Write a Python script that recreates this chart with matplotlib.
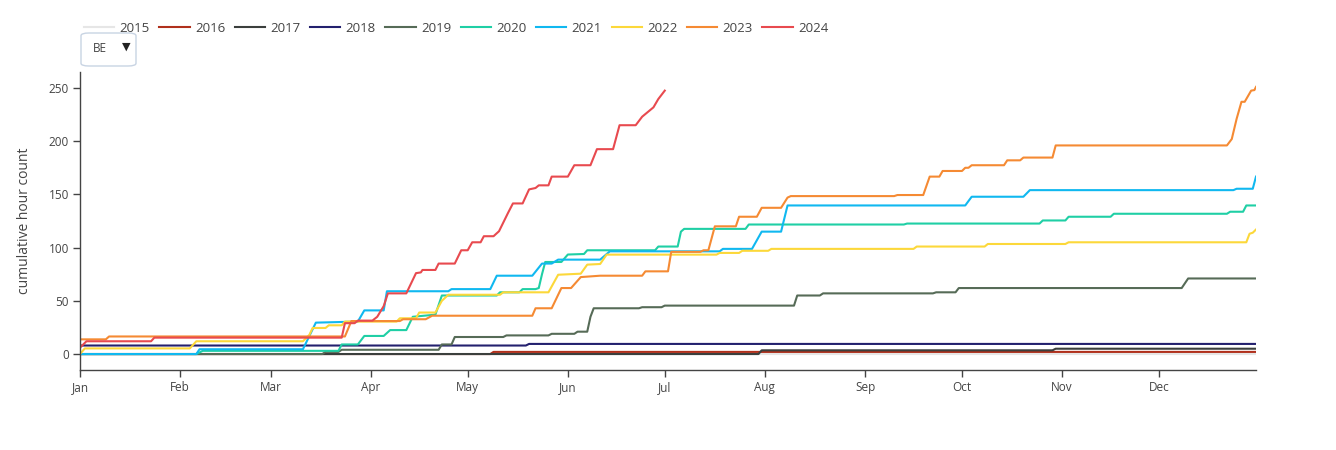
import matplotlib
matplotlib.use('Agg')
import matplotlib.pyplot as plt
import matplotlib.dates as mdates
from matplotlib.patches import FancyBboxPatch
import pandas as pd

plt.rcParams['font.family'] = ['Open Sans', 'DejaVu Sans']

# day of year (0 = Jan 1) and cumulative hour count, per year
days_2015 = [0, 364]
vals_2015 = [0, 0]

days_2016 = [0, 127, 128, 364]
vals_2016 = [0, 0, 2, 2]

days_2017 = [0, 210, 211, 301, 302, 364]
vals_2017 = [0, 0, 3.5, 3.5, 5, 5]

days_2018 = [0, 138, 139, 364]
vals_2018 = [8, 8, 9.5, 9.5]

days_2019 = [0, 75, 76, 80, 81, 111, 112, 115, 116, 131, 132, 145, 146, 153, 154,
             157, 158, 159, 173, 174, 180, 181, 221, 222, 229, 230, 264, 265,
             271, 272, 341, 343, 364]
vals_2019 = [0, 0, 2, 2, 4, 4, 9, 9, 16, 16, 17.5, 17.5, 19, 19, 21,
             21, 35, 43, 43, 44, 44, 45.5, 45.5, 55, 55, 57, 57, 58,
             58, 62, 62, 71, 71]

days_2020 = [0, 36, 38, 80, 81, 86, 88, 94, 96, 101, 103, 110, 112, 129, 130,
             136, 137, 141, 142, 143, 144, 149, 151, 156, 157, 178, 179, 185,
             186, 187, 206, 207, 255, 256, 297, 298, 305, 306, 319, 320, 355,
             356, 360, 361, 364]
vals_2020 = [0, 0, 3, 3, 9, 9, 17, 17, 22.5, 22.5, 35, 37, 55, 55, 58,
             58, 61, 61, 62, 75, 86.5, 86.5, 93.5, 94, 97.5, 97.5, 101, 101,
             115, 117.6, 117.6, 121.7, 121.7, 122.6, 122.6, 125.5, 125.5, 129, 129, 131.8, 131.8,
             133.7, 133.7, 139.6, 139.6]

days_2021 = [0, 36, 37, 69, 73, 86, 88, 94, 95, 114, 115, 127, 129, 140, 143,
             146, 148, 161, 164, 198, 199, 208, 211, 217, 219, 274, 276, 292,
             294, 357, 358, 363, 364]
vals_2021 = [0, 0, 4.5, 4.5, 29.5, 30.5, 41, 41, 59, 59, 61, 61, 73.6, 73.6, 85,
             85, 88.7, 88.7, 96.5, 96.5, 98.8, 98.8, 115, 115, 139.6, 139.6, 147.8, 147.8,
             154, 154, 155.3, 155.3, 166.7]

days_2022 = [0, 1.5, 34, 36, 69, 71, 72, 76, 77, 81, 82, 98, 99, 104, 105, 110,
             112, 114, 130, 131, 145, 148, 155, 157, 161, 163, 197, 198, 204,
             205, 213, 214, 258, 259, 280, 281, 305, 306, 361, 362, 363, 364]
vals_2022 = [0, 5.3, 5.3, 12, 12, 18, 24.5, 24.5, 27, 27, 30.5, 30.5, 33.6, 33.6, 39, 39,
             50, 55.7, 55.7, 58, 58, 74.5, 75.5, 84, 84.6, 93.4, 93.4, 95, 95,
             97, 97, 98.8, 98.8, 101, 101, 103.4, 103.4, 105, 105, 113, 114, 117]

days_2023 = [0, 8, 9, 82, 84, 99, 100, 107, 109, 140, 141, 146, 149, 152, 155,
             161, 174, 175, 182, 183, 192, 193, 194.5, 196.5, 203, 204, 209.5,
             211, 217, 219, 220, 252, 253, 261, 263, 266, 267, 273, 274, 275,
             276, 286, 287, 291, 292, 301, 302, 355, 356.5, 358, 359.5, 360.5,
             362.5, 363.5, 364]
vals_2023 = [13.8, 13.8, 16.5, 16.5, 31, 31, 32.7, 32.7, 36, 36, 43, 43, 62, 62, 72.3,
             73.6, 73.6, 77.7, 77.7, 96, 96, 97.5, 97.5, 120, 120, 129, 129,
             137.4, 137.4, 147, 148.4, 148.4, 149.4, 149.4, 166.7, 166.7, 172, 172, 175, 175,
             177.4, 177.4, 182, 182, 184.6, 184.6, 196, 196, 202, 221, 237, 237,
             247.5, 248, 251]

days_2024 = [0, 2, 22, 23, 81, 82, 85, 86, 90.5, 92, 94, 95.3, 101, 104, 105.5,
             106, 110, 111, 116, 118, 120, 121.4, 124, 125, 128, 129.7, 132.5,
             134, 137, 139, 141, 142, 145, 146, 151, 153, 158, 160, 165, 167,
             172, 174, 177.5, 179, 181]
vals_2024 = [6, 12, 12, 15.4, 15.4, 29, 29, 31.4, 31.4, 35, 45, 57, 57, 76, 76.7,
             79, 79, 85, 85, 97.5, 97.5, 105, 105, 110.7, 110.7, 115.4, 132.7,
             141.5, 141.5, 154.7, 156, 158.5, 158.5, 166.7, 166.7, 177.4, 177.4, 192.5, 192.5, 215,
             215, 223, 231.8, 239.6, 247.5]

years = ['2015', '2016', '2017', '2018', '2019', '2020', '2021', '2022', '2023', '2024']
series_days = [days_2015, days_2016, days_2017, days_2018, days_2019,
               days_2020, days_2021, days_2022, days_2023, days_2024]
series_vals = [vals_2015, vals_2016, vals_2017, vals_2018, vals_2019,
               vals_2020, vals_2021, vals_2022, vals_2023, vals_2024]
colors = ['#e6e6e6', '#b0301c', '#3b3f3d', '#23206e', '#566b57',
          '#1fcfa5', '#10b8f0', '#fcd83a', '#f58a33', '#e84a4f']

month_labels = ['Jan', 'Feb', 'Mar', 'Apr', 'May', 'Jun',
                'Jul', 'Aug', 'Sep', 'Oct', 'Nov', 'Dec']

start = pd.Timestamp('2023-01-01')

fig = plt.figure(figsize=(13.36, 4.5), dpi=100)
ax = fig.add_axes([80 / 1336, 1 - 370 / 450, 1176 / 1336, 298 / 450])

for year, d, v, c in zip(years, series_days, series_vals, colors):
    x = start + pd.to_timedelta(d, unit='D')
    ax.plot(x, v, color=c, lw=1.5, label=year, solid_joinstyle='round')

ax.set_xlim(start, start + pd.Timedelta(days=364))
ax.set_ylim(-15, 265)
ax.set_yticks([0, 50, 100, 150, 200, 250])
ax.xaxis.set_major_locator(mdates.MonthLocator())
ax.set_xticks(ax.get_xticks())
ax.set_xticklabels(month_labels)

for s in ['top', 'right']:
    ax.spines[s].set_visible(False)
for s in ['left', 'bottom']:
    ax.spines[s].set_color('#444444')
    ax.spines[s].set_linewidth(1)
ax.tick_params(axis='both', colors='#444444', labelsize=8.5, length=5, width=1, pad=3)
ax.set_ylabel('cumulative hour count', fontsize=10, color='#444444', labelpad=12)

fig.legend(loc='upper left', bbox_to_anchor=(84 / 1336, 1 - 22 / 450), ncol=10,
           frameon=False, fontsize=9.5, handlelength=2.3, handletextpad=0.4,
           columnspacing=0.72, borderpad=0, borderaxespad=0, labelcolor='#444444')

# dropdown selector
box = FancyBboxPatch((81 / 1336, 1 - 66 / 450), 55 / 1336, 33 / 450,
                     boxstyle='round,pad=0,rounding_size=0.006', transform=fig.transFigure,
                     facecolor='white', edgecolor='#c8d4e3', lw=1)
fig.patches.append(box)
fig.text(93 / 1336, 1 - 49 / 450, 'BE', fontsize=8.5, color='#444444', va='center', ha='left')
fig.text(126 / 1336, 1 - 47 / 450, '▼', fontsize=8, color='#222222', va='center', ha='center',
         family=['DejaVu Sans'])

plt.savefig('out.png', dpi=100)
